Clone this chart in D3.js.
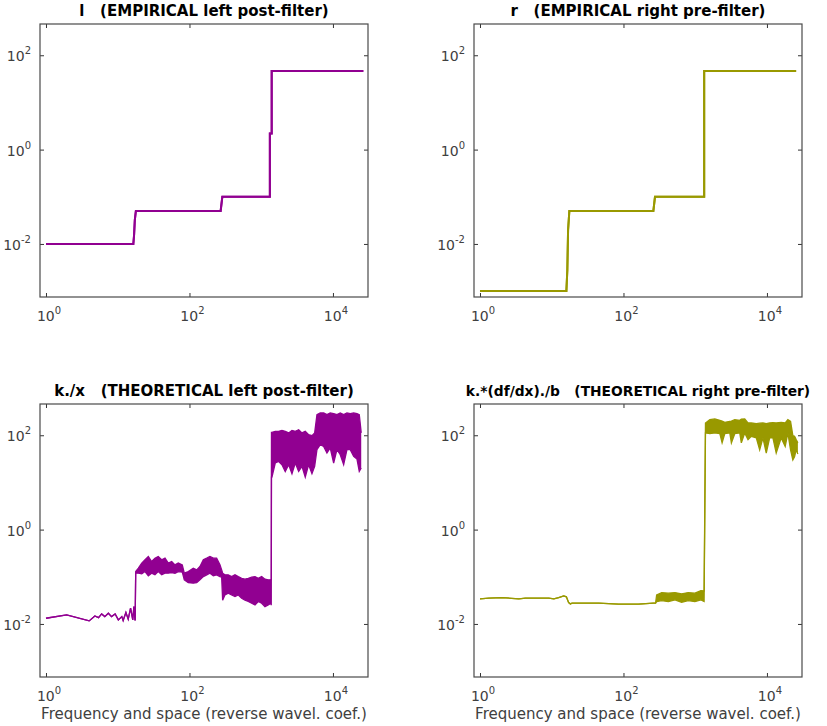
<!DOCTYPE html>
<html>
<head>
<meta charset="utf-8">
<script src="https://d3js.org/d3.v7.min.js"></script>
<style>
  body { margin: 0; background: #fff; }
  svg text { font-family: "DejaVu Sans", sans-serif; }
  .ax .domain { display: none; }
  .ax line { stroke: #333; }
</style>
</head>
<body>
<svg id="fig" width="827" height="726"></svg>
<script>
// tick values, shared by all four panels
const xTicks = [1, 100, 10000];
const yTicks = [0.01, 1, 100];
const xLimits = [0.825, 30800];
const yLimits = [7.5e-4, 460];

const titles = [
  'l   (EMPIRICAL left post-filter)',
  'r   (EMPIRICAL right pre-filter)',
  'k./x   (THEORETICAL left post-filter)',
  'k.*(df/dx)./b   (THEORETICAL right pre-filter)'
];
const xLabel = 'Frequency and space (reverse wavel. coef.)';

// empirical left (step curve)
const empLeftX = [1, 16.5, 16.9, 17.3, 17.9, 272, 287, 1320, 1320, 1400, 1400, 26500];
const empLeftY = [0.01, 0.01, 0.0155, 0.032, 0.05, 0.05, 0.1, 0.1, 2.2, 2.2, 46.6, 46.6];

// empirical right (step curve)
const empRightX = [1, 16, 16.5, 16.9, 17.6, 261, 275, 1334, 1334, 25500];
const empRightY = [0.001, 0.001, 0.0028, 0.0198, 0.05, 0.05, 0.1, 0.1, 46.6, 46.6];

// theoretical left: noisy curve read as lower / upper envelope
const theoLeftX = [1, 1.94, 4.0, 4.8, 5.4, 5.97, 6.6, 7.4, 8.2, 9.2, 10.2, 11.4, 11.9, 13.0, 14.0, 15.1, 16.2, 16.8, 17.4, 17.5,
  17.8, 19.4, 21.6, 24.0, 26.7, 29.7, 33.0, 36.7, 41.0, 45.6, 50.7, 56.5, 62.8, 69.8, 79.4,
  84.7, 96.2, 113, 126, 140, 156, 174, 193, 215, 239, 266, 281,
  290, 312, 347, 387, 431, 479, 534, 594, 660, 736, 819, 910, 1014, 1128, 1254, 1368, 1380,
  1390, 1412, 1570, 1750, 1946, 2163, 2415, 2684, 2985, 3326, 3699, 4111, 4583, 5097, 5559,
  5984, 6653, 7418, 8247, 9170, 10227, 11371, 12645, 14099, 15678, 17426, 19440, 21590, 23280, 24780];
const theoLeftLo = [0.0132, 0.0155, 0.0116, 0.0148, 0.0136, 0.0163, 0.0143, 0.0169, 0.0143, 0.0163, 0.0122, 0.0143, 0.0118, 0.0174, 0.0126, 0.0216, 0.0122, 0.0233, 0.0122, 0.0122,
  0.119, 0.119, 0.115, 0.129, 0.105, 0.119, 0.110, 0.129, 0.110, 0.119, 0.119, 0.123, 0.119, 0.129, 0.125,
  0.086, 0.075, 0.073, 0.075, 0.086, 0.101, 0.110, 0.119, 0.105, 0.110, 0.101, 0.098,
  0.032, 0.041, 0.045, 0.041, 0.038, 0.041, 0.035, 0.032, 0.030, 0.0275, 0.0253, 0.030, 0.0275, 0.0233, 0.0253, 0.0275, 0.025,
  13, 13, 25.8, 27.9, 23.8, 17.1, 23.8, 15.3, 25.8, 17.1, 21.9, 13.0, 23.8, 15.3, 21.9,
  49.4, 63.1, 58.1, 42.1, 53.7, 25.8, 49.4, 38.7, 23.8, 49.4, 49.4, 35.6, 31.4, 17.1, 20.2];
const theoLeftHi = [0.0132, 0.0155, 0.0116, 0.0148, 0.0136, 0.0163, 0.0143, 0.0169, 0.0143, 0.0163, 0.0122, 0.0143, 0.0118, 0.0174, 0.0126, 0.0216, 0.0122, 0.0233, 0.0122, 0.0122,
  0.129, 0.152, 0.195, 0.229, 0.269, 0.210, 0.248, 0.269, 0.229, 0.248, 0.195, 0.210, 0.179, 0.195, 0.179,
  0.119, 0.129, 0.152, 0.140, 0.165, 0.229, 0.248, 0.269, 0.248, 0.248, 0.179, 0.140,
  0.119, 0.110, 0.110, 0.101, 0.110, 0.101, 0.093, 0.089, 0.093, 0.098, 0.101, 0.093, 0.101, 0.089, 0.086, 0.086, 0.09,
  115, 115, 121, 121, 127, 121, 112, 127, 121, 131, 112, 121, 103, 98, 112,
  273, 297, 297, 273, 297, 288, 273, 297, 273, 297, 288, 297, 288, 273, 112];

// theoretical right
const theoRightX = [1, 1.33, 2.04, 3.48, 4.31, 9.08, 10.7, 12.5, 14.7, 16.0, 17.2, 18.2, 19.2, 23.7, 45, 85, 162, 261, 280,
  290, 341, 422, 522, 646, 800, 991, 1200, 1330,
  1390, 1600, 1878, 2204, 2371, 2585, 3034, 3193, 3558, 4176, 4397, 4898, 5446, 6054, 7103,
  7918, 8796, 9779, 10905, 12115, 13461, 15806, 17963, 19573, 21340, 22960, 24253, 25527, 26978];
const theoRightLo = [0.034, 0.0351, 0.0361, 0.034, 0.0351, 0.0351, 0.034, 0.0361, 0.0393, 0.0375, 0.0283, 0.0266, 0.0275, 0.0275, 0.0275, 0.0262, 0.0262, 0.0275, 0.0275,
  0.0297, 0.0313, 0.0297, 0.0324, 0.0289, 0.0313, 0.0297, 0.0324, 0.03,
  112, 108, 112, 108, 69, 108, 112, 69, 108, 112, 69, 112, 81, 95, 88,
  49, 88, 42, 88, 88, 42, 88, 58, 112, 49, 30, 35, 49, 40];
const theoRightHi = [0.034, 0.0351, 0.0361, 0.034, 0.0351, 0.0351, 0.034, 0.0361, 0.0393, 0.0375, 0.0283, 0.0266, 0.0275, 0.0275, 0.0275, 0.0262, 0.0262, 0.0275, 0.0275,
  0.0413, 0.0462, 0.0449, 0.0462, 0.0435, 0.0462, 0.0449, 0.0509, 0.05,
  182, 214, 222, 207, 200, 188, 197, 200, 214, 207, 220, 222, 182, 182, 176,
  180, 182, 176, 182, 185, 182, 188, 182, 214, 197, 98, 95, 81, 69];

const purple = '#910091';
const olive = '#999900';

const svg = d3.select('svg#fig');
const w = 328, h = 273;

const panels = [
  {x0: 40,  y0: 24,  title: titles[0], tsize: 15,   color: purple, X: empLeftX, lo: empLeftY, hi: empLeftY, lw: 2, xlab: false},
  {x0: 474, y0: 24,  title: titles[1], tsize: 15,   color: olive,  X: empRightX, lo: empRightY, hi: empRightY, lw: 2, xlab: false},
  {x0: 40,  y0: 404, title: titles[2], tsize: 15,   color: purple, X: theoLeftX, lo: theoLeftLo, hi: theoLeftHi, lw: 1.3, xlab: true},
  {x0: 474, y0: 404, title: titles[3], tsize: 13.8, color: olive,  X: theoRightX, lo: theoRightLo, hi: theoRightHi, lw: 1.3, xlab: true}
];

panels.forEach(p => {
  const g = svg.append('g').attr('transform', `translate(${p.x0},${p.y0})`);
  const x = d3.scaleLog().domain(xLimits).range([0, w]);
  const y = d3.scaleLog().domain(yLimits).range([h, 0]);

  // inward ticks on all four sides
  g.append('g').attr('class', 'ax').attr('transform', `translate(0,${h})`)
    .call(d3.axisBottom(x).tickValues(xTicks).tickSize(-4).tickFormat(''));
  g.append('g').attr('class', 'ax')
    .call(d3.axisTop(x).tickValues(xTicks).tickSize(-4).tickFormat(''));
  g.append('g').attr('class', 'ax')
    .call(d3.axisLeft(y).tickValues(yTicks).tickSize(-4).tickFormat(''));
  g.append('g').attr('class', 'ax').attr('transform', `translate(${w},0)`)
    .call(d3.axisRight(y).tickValues(yTicks).tickSize(-4).tickFormat(''));

  // tick labels 10^n
  xTicks.forEach(v => {
    const t = g.append('text').attr('x', x(v) + 3).attr('y', h + 24)
      .attr('text-anchor', 'middle').attr('font-size', 14).attr('fill', '#404040');
    t.append('tspan').text('10');
    t.append('tspan').attr('dy', -7).attr('font-size', 10).text(Math.round(Math.log10(v)));
  });
  yTicks.forEach(v => {
    const t = g.append('text').attr('x', -9).attr('y', y(v) + 6)
      .attr('text-anchor', 'end').attr('font-size', 14).attr('fill', '#404040');
    t.append('tspan').text('10');
    t.append('tspan').attr('dy', -7).attr('font-size', 10).text(Math.round(Math.log10(v)));
  });

  const pts = p.X.map((v, i) => ({x: v, lo: p.lo[i], hi: p.hi[i]}));

  g.append('path').datum(pts)
    .attr('fill', p.color).attr('stroke', 'none')
    .attr('d', d3.area().x(d => x(d.x)).y0(d => y(d.lo)).y1(d => y(d.hi)));
  g.append('path').datum(pts)
    .attr('fill', 'none').attr('stroke', p.color).attr('stroke-width', p.lw)
    .attr('d', d3.line().x(d => x(d.x)).y(d => y(d.lo)));
  g.append('path').datum(pts)
    .attr('fill', 'none').attr('stroke', p.color).attr('stroke-width', p.lw)
    .attr('d', d3.line().x(d => x(d.x)).y(d => y(d.hi)));

  // axes box
  g.append('rect').attr('width', w).attr('height', h)
    .attr('fill', 'none').attr('stroke', '#4a4a4a').attr('stroke-width', 1.2);

  g.append('text').attr('x', w / 2).attr('y', -8)
    .attr('text-anchor', 'middle').attr('font-size', p.tsize).attr('font-weight', 'bold')
    .style('white-space', 'pre').attr('xml:space', 'preserve')
    .text(p.title);

  if (p.xlab) {
    g.append('text').attr('x', w / 2).attr('y', h + 42)
      .attr('text-anchor', 'middle').attr('font-size', 15).attr('fill', '#404040')
      .text(xLabel);
  }
});
</script>
</body>
</html>
